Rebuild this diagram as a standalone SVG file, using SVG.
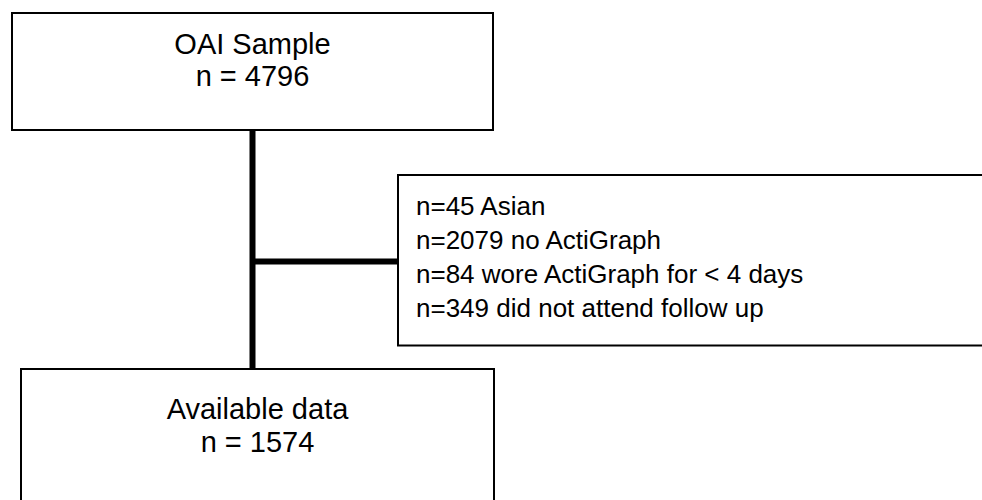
<svg xmlns="http://www.w3.org/2000/svg" width="982" height="500" viewBox="0 0 982 500">
<style>
.box{fill:#fff;stroke:#000;stroke-width:2}
.t{font-family:"Liberation Sans",Arial,sans-serif;fill:#000}
.c{font-size:29px;text-anchor:middle}
.l{font-size:26px}
.conn{stroke:#000;stroke-width:6;fill:none}
</style>
<rect width="982" height="500" fill="#fff"/>
<g id="connectors">
<line class="conn" x1="252.5" y1="130" x2="252.5" y2="369"/>
<line class="conn" x1="252.5" y1="261.5" x2="398" y2="261.5"/>
</g>
<g id="oai-sample">
<rect class="box" x="12" y="13" width="481" height="117"/>
<text class="t c" x="252.5" y="54">OAI Sample</text>
<text class="t c" x="252.5" y="86">n = 4796</text>
</g>
<g id="exclusions">
<rect class="box" x="398" y="175" width="600" height="170.5"/>
<text class="t l" x="416" y="215">n=45 Asian</text>
<text class="t l" x="416" y="249">n=2079 no ActiGraph</text>
<text class="t l" x="416" y="283">n=84 wore ActiGraph for &lt; 4 days</text>
<text class="t l" x="416" y="317">n=349 did not attend follow up</text>
</g>
<g id="available-data">
<rect class="box" x="21" y="369" width="473" height="150"/>
<text class="t c" x="257.5" y="419">Available data</text>
<text class="t c" x="257.5" y="452">n = 1574</text>
</g>
</svg>
